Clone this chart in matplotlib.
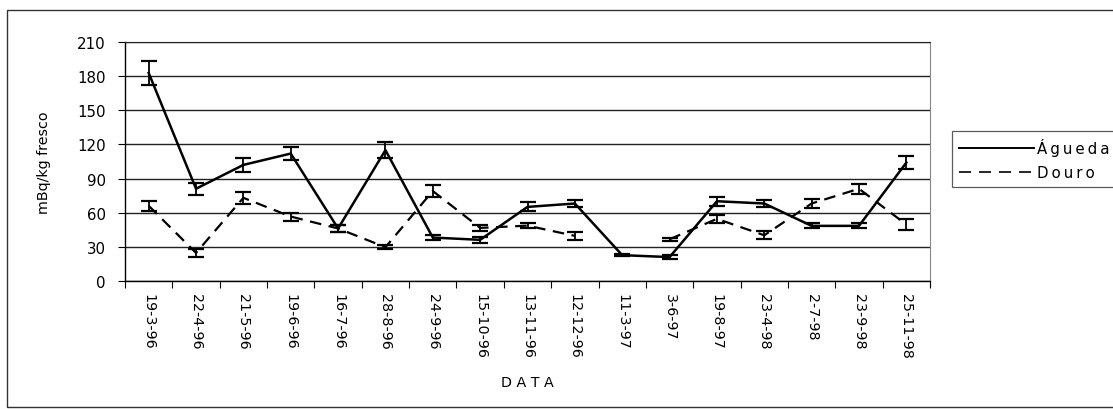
import numpy as np
import matplotlib
matplotlib.use("Agg")
import matplotlib.pyplot as plt
from matplotlib.patches import Rectangle
from matplotlib.lines import Line2D

plt.rcParams['font.family'] = ['DejaVu Sans']

dates = ["19-3-96", "22-4-96", "21-5-96", "19-6-96", "16-7-96", "28-8-96",
         "24-9-96", "15-10-96", "13-11-96", "12-12-96", "11-3-97", "3-6-97",
         "19-8-97", "23-4-98", "2-7-98", "23-9-98", "25-11-98"]

agueda = [183, 81, 102, 112, 46, 115, 38, 36, 65, 68, 22.5, 20.8, 70, 68, 48.3, 48.3, 104]
agueda_err = [10.5, 5.5, 6, 5.5, 3, 7, 2.5, 2.5, 4, 3.5, 0.8, 2, 4, 3.5, 2.3, 2.3, 6]

douro = [66, 24.5, 73, 56.5, 46, 29.5, 79, 46.5, 48.5, 39.5, np.nan, 36.5, 54.5, 40, 68, 81, 49.5]
douro_err = [4.5, 3.7, 5, 3.5, 3, 2, 5, 2.5, 2.5, 3.5, np.nan, 1.5, 3.7, 3.5, 4, 4.5, 4.5]

yticks = [0, 30, 60, 90, 120, 150, 180, 210]

W, H = 1113, 410
FS = 10.8
FSX = 10.3
fig = plt.figure(figsize=(W / 100, H / 100), dpi=100)
ax_l, ax_r, ax_t, ax_b = 125, 930, 43.3, 281.7
ax = fig.add_axes([ax_l / W, 1 - ax_b / H, (ax_r - ax_l) / W, (ax_b - ax_t) / H])

x = np.arange(len(dates))

# outer frame
fig.patches.append(Rectangle((7 / W, 2 / H), (W + 10) / W, (408 - 11) / H,
                             transform=fig.transFigure, fill=False,
                             edgecolor='#333333', linewidth=1.0))

ax.errorbar(x, agueda, yerr=agueda_err, color='black', linewidth=1.8,
            linestyle='-', capsize=5.5, capthick=1.6, elinewidth=1.3, zorder=3)
ax.errorbar(x, douro, yerr=douro_err, color='black', linewidth=1.6,
            linestyle=(0, (5.2, 3.4)), capsize=5.5, capthick=1.6, elinewidth=1.3, zorder=3)

ax.set_xlim(-0.5, len(dates) - 0.5)
ax.set_ylim(0, 210)
ax.set_yticks(yticks)
ax.set_yticklabels([str(v) for v in yticks], fontsize=FS)
ax.yaxis.grid(True, color='#222222', linewidth=1.0)
ax.set_axisbelow(True)

ax.set_xticks(x)
ax.set_xticklabels(dates, rotation=270, fontsize=FSX, va='top', ha='center')
ax.set_xticks(np.arange(-0.5, len(dates)), minor=True)
ax.tick_params(axis='x', which='major', length=0, pad=9)
ax.tick_params(axis='x', which='minor', length=5, width=0.8, direction='out')
ax.tick_params(axis='y', length=5, width=0.8, direction='out', pad=9)

for s in ['left', 'bottom']:
    ax.spines[s].set_color('black')
    ax.spines[s].set_linewidth(1.0)
ax.spines['top'].set_color('#222222')
ax.spines['right'].set_color('#888888')
ax.spines['right'].set_linewidth(0.8)

fig.text(44 / W, 1 - (ax_t + ax_b) / 2 / H, "mBq/kg fresco", rotation=90,
         ha='center', va='center', fontsize=FSX)
fig.text((ax_l + ax_r) / 2 / W, 1 - 383 / H, "D A T A", ha='center', va='center',
         fontsize=FSX)

# legend
handles = [Line2D([], [], color='black', linewidth=1.4, linestyle='-'),
           Line2D([], [], color='black', linewidth=1.2, linestyle=(0, (7.2, 4.8)))]
leg = fig.legend(handles, ["Á\u2009g\u2009u\u2009e\u2009d\u2009a", "D\u2009o\u2009u\u2009r\u2009o"],
                 loc='upper left',
                 bbox_to_anchor=(952 / W, 1 - 132 / H), fontsize=FS,
                 frameon=True, fancybox=False, edgecolor='#333333',
                 handlelength=5.0, handletextpad=0.2, borderpad=0.45,
                 labelspacing=0.6, borderaxespad=0)
leg.get_frame().set_linewidth(0.9)

fig.savefig("out.png", dpi=100)
